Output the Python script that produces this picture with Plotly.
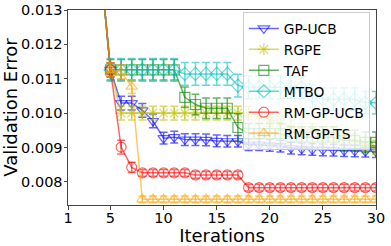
import plotly.graph_objects as go

iterations = list(range(1, 31))

head = [0.0250, 0.0200, 0.0170, 0.0145]

gp_ucb = head + [0.01126, 0.01029, 0.01029, 0.01008, 0.00977, 0.00927, 0.00930, 0.00923, 0.00923, 0.00922,
                 0.00919, 0.00918, 0.00918, 0.00908, 0.00908, 0.00906, 0.00904, 0.00898, 0.00896, 0.00894,
                 0.00893, 0.00892, 0.00891, 0.00890, 0.00889, 0.00888]
gp_ucb_err = [0.0002] * 9 + [0.00017] * 21

rgpe = head + [0.01126, 0.01000, 0.01000, 0.01000, 0.01000, 0.01000, 0.01000, 0.01000, 0.01000, 0.01000,
               0.01000, 0.01000, 0.01000, 0.01000, 0.00990, 0.00980, 0.00970, 0.00960, 0.00950, 0.00950,
               0.00940, 0.00940, 0.00930, 0.00920, 0.00910, 0.00900]
rgpe_err = [0.0002] * 30

taf = head + [0.01126, 0.01126, 0.01126, 0.01126, 0.01126, 0.01126, 0.01126, 0.01046, 0.01025, 0.01014,
              0.01014, 0.01014, 0.00958, 0.00940, 0.00940, 0.00940, 0.00940, 0.00930, 0.00930, 0.00930,
              0.00930, 0.00930, 0.00920, 0.00920, 0.00915, 0.00915]
taf_err = [0.0003] * 16 + [0.0004] + [0.0003] * 13

mtbo = head + [0.01126, 0.01126, 0.01126, 0.01126, 0.01126, 0.01126, 0.01126, 0.01114, 0.01114, 0.01114,
               0.01114, 0.01114, 0.01080, 0.01075, 0.01075, 0.01075, 0.01075, 0.01075, 0.01075, 0.01050,
               0.01040, 0.01040, 0.01040, 0.01040, 0.01030, 0.01030]
mtbo_err = [0.00033] * 30

rm_gp_ucb = head + [0.01126, 0.00901, 0.00842, 0.00826, 0.00826, 0.00826, 0.00826, 0.00826, 0.00820, 0.00820,
                    0.00820, 0.00820, 0.00820, 0.00783, 0.00783, 0.00783, 0.00783, 0.00783, 0.00783, 0.00783,
                    0.00783, 0.00783, 0.00783, 0.00783, 0.00783, 0.00783]
rm_gp_ucb_err = [0.0001] * 4 + [0.0002, 0.0002, 0.00015] + [0.0001] * 23

rm_gp_ts = head + [0.01126, 0.01120, 0.01077] + [0.00749] * 23
rm_gp_ts_err = [0.0001] * 4 + [0.0002, 0.0002, 0.0002] + [0.0001] * 23

y_ticks = [0.008, 0.009, 0.010, 0.011, 0.012, 0.013]
x_ticks = [1, 5, 10, 15, 20, 25, 30]

series = [
    ("GP-UCB", gp_ucb, gp_ucb_err, "rgba(0,0,255,0.6)", "triangle-down-open"),
    ("RGPE", rgpe, rgpe_err, "rgba(191,191,0,0.6)", "asterisk-open"),
    ("TAF", taf, taf_err, "rgba(0,128,0,0.6)", "square-open"),
    ("MTBO", mtbo, mtbo_err, "rgba(0,191,191,0.6)", "diamond-open"),
    ("RM-GP-UCB", rm_gp_ucb, rm_gp_ucb_err, "rgba(255,0,0,0.6)", "circle-open"),
    ("RM-GP-TS", rm_gp_ts, rm_gp_ts_err, "rgba(255,165,0,0.6)", "triangle-up-open"),
]

fig = go.Figure()
for name, vals, errs, color, symbol in series:
    fig.add_trace(go.Scatter(
        x=iterations, y=vals, name=name, mode="lines+markers",
        line=dict(color=color, width=1.5),
        marker=dict(symbol=symbol, size=10, color=color, line=dict(color=color, width=1.2)),
        error_y=dict(type="data", array=errs, visible=True, color=color, thickness=1.5, width=4),
    ))

font = "DejaVu Sans"
fig.update_layout(
    width=391, height=246,
    margin=dict(l=68, r=15, t=10, b=41),
    paper_bgcolor="white", plot_bgcolor="white",
    font=dict(family=font, size=14.5, color="black"),
    showlegend=True,
    legend=dict(x=0.98, y=0.99, xanchor="right", yanchor="top",
                bgcolor="rgba(255,255,255,0.8)", bordercolor="#cccccc", borderwidth=1,
                font=dict(family=font, size=13.8), tracegroupgap=0, itemwidth=30),
    xaxis=dict(range=[1, 30], tickvals=x_ticks, ticktext=[str(t) for t in x_ticks],
               title=dict(text="Iterations", standoff=0, font=dict(size=18)),
               showgrid=False, zeroline=False, showline=True, linecolor="#444", linewidth=1,
               mirror=True, ticks="outside", ticklen=3.5, tickcolor="#444", automargin=False,
               ticklabelstandoff=-4),
    yaxis=dict(range=[0.007325, 0.013], tickvals=y_ticks, ticktext=[f"{t:.3f}" for t in y_ticks],
               title=dict(text="Validation Error", standoff=2, font=dict(size=18)),
               showgrid=False, zeroline=False, showline=True, linecolor="#444", linewidth=1,
               mirror=True, ticks="outside", ticklen=3.5, tickcolor="#444", automargin=False,
               ticklabelstandoff=-2),
)

fig.write_html("out.html", config={"displayModeBar": False},
               post_script="document.body.style.margin='0';")
